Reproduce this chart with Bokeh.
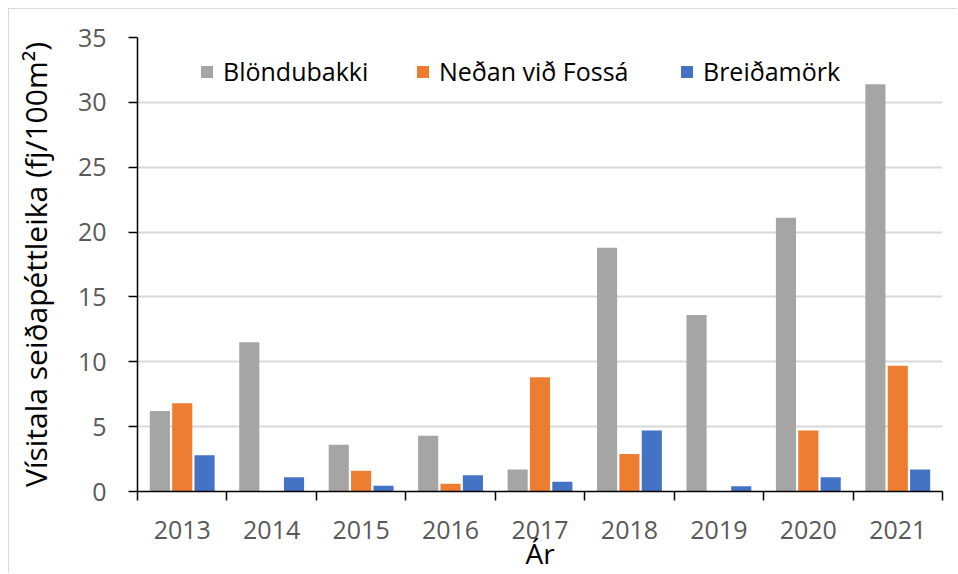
from bokeh.plotting import figure
from bokeh.models import FixedTicker, Range1d, Legend, LegendItem, ColumnDataSource
from bokeh.embed import file_html
from bokeh.resources import INLINE

years = ["2013", "2014", "2015", "2016", "2017", "2018", "2019", "2020", "2021"]
blondubakki = [6.2, 11.5, 3.6, 4.3, 1.7, 18.8, 13.6, 21.1, 31.4]
nedan_vid_fossa = [6.8, 0.0, 1.6, 0.6, 8.8, 2.9, 0.0, 4.7, 9.7]
breidamork = [2.8, 1.1, 0.45, 1.25, 0.75, 4.7, 0.4, 1.1, 1.7]
series_names = ["Blöndubakki", "Neðan við Fossá", "Breiðamörk"]
colors = ["#A5A5A5", "#ED7D31", "#4472C4"]
y_ticks = [0, 5, 10, 15, 20, 25, 30, 35]
x_title = "Ár"
y_title = "Vísitala seiðapéttleika (fj/100m²)"

FONT = "Open Sans"
n = len(years)
centers = [i + 0.5 for i in range(n)]

p = figure(width=949, height=565, output_backend="svg", toolbar_location=None,
           x_range=Range1d(0, n), y_range=Range1d(0, 35),
           min_border_left=128, min_border_right=16, min_border_top=28, min_border_bottom=82)
p.styles = {"margin-left": "8px", "margin-top": "8px",
            "border-top": "1px solid #d9d9d9", "border-left": "1px solid #d9d9d9"}
p.outline_line_color = None
p.background_fill_color = "white"
p.border_fill_color = "white"

renderers = []
for k, (vals, col) in enumerate(zip([blondubakki, nedan_vid_fossa, breidamork], colors)):
    src = ColumnDataSource(dict(x=[c + (k - 1) * 0.25 for c in centers], top=vals))
    r = p.vbar(x="x", top="top", bottom=0, width=0.225, source=src,
               fill_color=col, line_color=None)
    renderers.append(r)

# x axis
p.xaxis.ticker = FixedTicker(ticks=centers, minor_ticks=list(range(n + 1)))
p.xaxis.major_label_overrides = {c: y for c, y in zip(centers, years)}
p.xaxis.major_tick_line_color = None
p.xaxis.major_tick_out = 0
p.xaxis.major_tick_in = 0
p.xaxis.minor_tick_line_color = "black"
p.xaxis.minor_tick_line_width = 1.5
p.xaxis.minor_tick_out = 9
p.xaxis.minor_tick_in = 0
p.xaxis.axis_line_color = "black"
p.xaxis.axis_line_width = 1.5
p.xaxis.major_label_text_font = FONT
p.xaxis.major_label_text_font_size = "25px"
p.xaxis.major_label_text_color = "#595959"
p.xaxis.major_label_standoff = 20
p.xaxis.axis_label = x_title
p.xaxis.axis_label_text_font = FONT
p.xaxis.axis_label_text_font_size = "28px"
p.xaxis.axis_label_text_font_style = "normal"
p.xaxis.axis_label_text_color = "black"
p.xaxis.axis_label_standoff = -8

# y axis
p.yaxis.ticker = FixedTicker(ticks=y_ticks, minor_ticks=[])
p.yaxis.major_tick_line_color = "black"
p.yaxis.major_tick_line_width = 1.5
p.yaxis.major_tick_out = 9
p.yaxis.major_tick_in = 0
p.yaxis.minor_tick_line_color = None
p.yaxis.axis_line_color = "black"
p.yaxis.axis_line_width = 1.5
p.yaxis.major_label_text_font = FONT
p.yaxis.major_label_text_font_size = "25px"
p.yaxis.major_label_text_color = "#595959"
p.yaxis.major_label_standoff = 22
p.yaxis.axis_label = y_title
p.yaxis.axis_label_text_font = FONT
p.yaxis.axis_label_text_font_size = "30px"
p.yaxis.axis_label_text_font_style = "normal"
p.yaxis.axis_label_text_color = "black"
p.yaxis.axis_label_standoff = 19

p.xgrid.grid_line_color = None
p.ygrid.grid_line_color = "#d9d9d9"
p.ygrid.grid_line_width = 2

# legends: one per item, placed like the reference
legend_x = [62, 278, 542]
for name, r, lx in zip(series_names, renderers, legend_x):
    lg = Legend(items=[LegendItem(label=name, renderers=[r])],
                location=(lx, 403), orientation="horizontal",
                label_text_font=FONT, label_text_font_size="25px",
                label_text_color="black", glyph_width=15, glyph_height=15,
                label_standoff=9, padding=2, margin=0, spacing=0,
                border_line_color=None, background_fill_alpha=0)
    p.add_layout(lg)

open("out.html", "w").write(file_html(p, INLINE))
